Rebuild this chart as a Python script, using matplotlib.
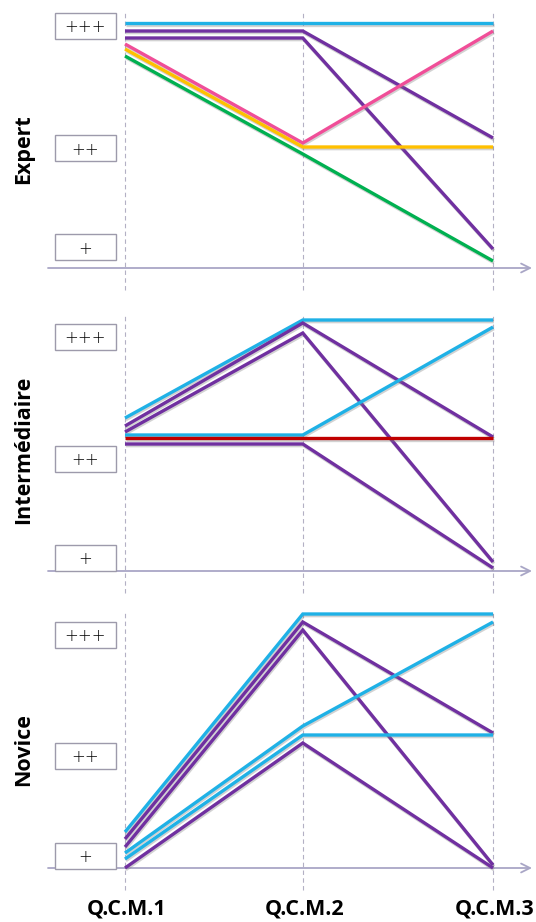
import matplotlib
matplotlib.use("Agg")
import matplotlib.pyplot as plt
from matplotlib.patches import Rectangle
import matplotlib.patheffects as pe

# ---------------- data ----------------
categories = ["Q.C.M.1", "Q.C.M.2", "Q.C.M.3"]
level_labels = ["+", "++", "+++"]
panel_names = ["Expert", "Intermédiaire", "Novice"]

# scores (0 = axis baseline, ~10 = top level)
expert_series = [
    [9.80, 9.80, 9.80],
    [9.48, 9.48, 5.20],
    [9.20, 9.20, 0.76],
    [8.96, 5.00, 9.48],
    [8.76, 4.84, 4.84],
    [8.48, 4.56, 0.28],
]
expert_colors = ["#1fb1e6", "#7030a0", "#7030a0", "#f04e98", "#ffc000", "#00b050"]

inter_series = [
    [6.12, 10.04, 10.04],
    [5.80, 9.92, 5.36],
    [5.56, 9.52, 0.36],
    [5.44, 5.44, 9.76],
    [5.32, 5.32, 5.32],
    [5.08, 5.08, 0.12],
]
inter_colors = ["#1fb1e6", "#7030a0", "#7030a0", "#1fb1e6", "#c00000", "#7030a0"]

novice_series = [
    [1.44, 10.16, 10.16],
    [1.16, 9.84, 5.40],
    [0.84, 9.52, 0.12],
    [0.60, 5.68, 9.84],
    [0.36, 5.32, 5.32],
    [0.00, 5.00, 0.00],
]
novice_colors = ["#1fb1e6", "#7030a0", "#7030a0", "#1fb1e6", "#1fb1e6", "#7030a0"]

# ---------------- layout ----------------
W, H = 536, 922
x_pos = [0.0, 1.0, 2.07]          # horizontal placement of the three questionnaires
px_per_x = 177.8
x_origin_px = 125
px_per_y = 25.0

# (top_px, bottom_px, axis_px, level box centres, name centre px)
panels = [
    (0, 296, 268, [0.82, 4.78, 9.68], 149),
    (298, 596, 571, [0.52, 4.48, 9.38], 450),
    (598, 894, 868, [0.50, 4.48, 9.32], 750),
]
all_series = [expert_series, inter_series, novice_series]
all_colors = [expert_colors, inter_colors, novice_colors]

fig = plt.figure(figsize=(W / 100, H / 100), dpi=100)

xmin = -x_origin_px / px_per_x
xmax = (W - x_origin_px) / px_per_x
grid_col = "#b3b0c4"
axis_col = "#a9a6c6"

for p, (top, bot, axis_px, box_c, name_c) in enumerate(panels):
    ax = fig.add_axes([0, (H - bot) / H, 1, (bot - top) / H])
    ax.set_xlim(xmin, xmax)
    ax.set_ylim((axis_px - bot) / px_per_y, (axis_px - top) / px_per_y)
    ax.axis("off")

    # dashed vertical guides
    for xp in x_pos:
        ax.plot([xp, xp], [-0.88, 10.32], color=grid_col, lw=0.8,
                dashes=(4, 3), zorder=1)

    # horizontal axis with arrow
    ax.annotate("", xy=((532 - x_origin_px) / px_per_x, 0),
                xytext=((48 - x_origin_px) / px_per_x, 0),
                arrowprops=dict(arrowstyle="->", color=axis_col, lw=1.3,
                                mutation_scale=16, shrinkA=0, shrinkB=0),
                zorder=2)

    # level boxes
    bx0 = (55 - x_origin_px) / px_per_x
    bw = 61 / px_per_x
    bh = 26 / px_per_y
    for lab, c in zip(level_labels, box_c):
        ax.add_patch(Rectangle((bx0, c - bh / 2), bw, bh, facecolor="white",
                               edgecolor="#9d9aab", lw=1.0, zorder=3))
        ax.text(bx0 + bw / 2, c - 0.05, lab, ha="center", va="center",
                fontsize=12, color="black", family="DejaVu Sans",
                fontweight="light", zorder=4)

    # series lines
    for ys, col in zip(all_series[p], all_colors[p]):
        ax.plot(x_pos, ys, color=col, lw=2.4, solid_capstyle="butt",
                solid_joinstyle="miter", zorder=5,
                path_effects=[pe.SimpleLineShadow(offset=(0.6, -1.2),
                                                  shadow_color="gray", alpha=0.35),
                              pe.Normal()])

    # panel name
    fig.text(24 / W, 1 - name_c / H, panel_names[p],
             rotation=90, ha="center", va="center", fontsize=15.5,
             fontweight="bold", family="Open Sans")

# category labels
for xp, cat in zip(x_pos, categories):
    fig.text((x_origin_px + 2 + xp * px_per_x) / W, 1 - 909 / H, cat,
             ha="center", va="center", fontsize=15.5, fontweight="bold",
             family="Open Sans")

fig.savefig("out.png", dpi=100)
